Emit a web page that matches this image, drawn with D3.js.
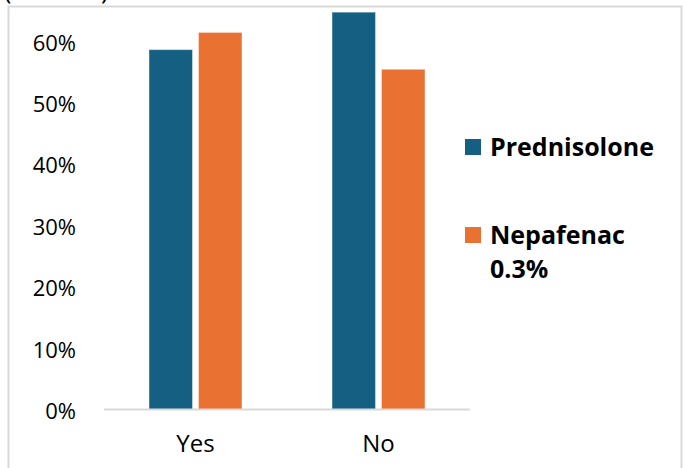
<!DOCTYPE html>
<html>
<head>
<meta charset="utf-8">
<script src="https://cdn.jsdelivr.net/npm/d3@7"></script>
<style>
  html, body { margin: 0; padding: 0; background: #fff; }
  svg { display: block; }
</style>
</head>
<body>
<svg id="chart" width="686" height="468"></svg>
<script>
// Response categories and series values (percent)
const categories = ["Yes", "No"];
const seriesNames = ["Prednisolone", "Nepafenac 0.3%"];
const prednisolone = [58.6, 64.7];
const nepafenac = [61.4, 55.4];
const tickValues = [0, 10, 20, 30, 40, 50, 60];
const tickLabels = ["0%", "10%", "20%", "30%", "40%", "50%", "60%"];
const colors = ["#156082", "#E97132"];

const svg = d3.select("#chart");
const plot = { left: 104, right: 470, top: 41, bottom: 409.5 };
const FONT = "'Open Sans', sans-serif";

// Outer chart frame
svg.append("rect")
  .attr("x", 8.5).attr("y", 6.5)
  .attr("width", 673).attr("height", 480)
  .attr("fill", "#fff")
  .attr("stroke", "#d9d9d9").attr("stroke-width", 2);

// Title line sitting above the frame, mostly outside the view
svg.append("text")
  .attr("x", 4).attr("y", -1)
  .attr("font-family", FONT)
  .attr("font-size", 25)
  .attr("fill", "#000")
  .text("(Percent)");

const x0 = d3.scaleBand().domain(categories).range([plot.left, plot.right]);
const x1 = d3.scaleBand().domain(seriesNames).range([0, 93]).paddingInner(0.12);
const y = d3.scaleLinear().domain([0, 60]).range([plot.bottom, plot.top]);

const values = [prednisolone, nepafenac];

// Bars
const groups = svg.append("g").selectAll("g")
  .data(categories)
  .join("g")
  .attr("transform", d => `translate(${x0(d) + (x0.bandwidth() - 93) / 2},0)`);

groups.selectAll("rect")
  .data((c, ci) => seriesNames.map((s, si) => ({ s, si, v: values[si][ci] })))
  .join("rect")
  .attr("x", d => x1(d.s))
  .attr("width", x1.bandwidth())
  .attr("y", d => y(d.v))
  .attr("height", d => y(0) - y(d.v))
  .attr("fill", d => colors[d.si])
  .attr("stroke", "#ffffff")
  .attr("stroke-opacity", 0.45)
  .attr("stroke-width", 1);

// Baseline
svg.append("line")
  .attr("x1", plot.left).attr("x2", plot.right)
  .attr("y1", y(0)).attr("y2", y(0))
  .attr("stroke", "#d9d9d9").attr("stroke-width", 2);

// Y axis labels
const yAxis = d3.axisLeft(y)
  .tickValues(tickValues)
  .tickFormat((d, i) => tickLabels[i])
  .tickSize(0)
  .tickPadding(0);
const yg = svg.append("g")
  .attr("transform", `translate(76,2)`)
  .call(yAxis);
yg.select(".domain").remove();
yg.selectAll("text")
  .attr("font-family", FONT)
  .attr("font-size", 22)
  .attr("fill", "#000");

// X axis labels
const xAxis = d3.axisBottom(x0).tickSize(0).tickPadding(0);
const xg = svg.append("g")
  .attr("transform", `translate(0,435)`)
  .call(xAxis);
xg.select(".domain").remove();
xg.selectAll("text")
  .attr("font-family", FONT)
  .attr("font-size", 24)
  .attr("fill", "#000");

// Legend
const legend = svg.append("g");
const legendRows = [
  { lines: ["Prednisolone"], y: 139 },
  { lines: ["Nepafenac", "0.3%"], y: 227 }
];
legendRows.forEach((row, i) => {
  legend.append("rect")
    .attr("x", 465).attr("y", row.y)
    .attr("width", 16).attr("height", 16)
    .attr("fill", colors[i]);
  const t = legend.append("text")
    .attr("x", 490).attr("y", row.y + 17)
    .attr("font-family", FONT)
    .attr("font-weight", "bold")
    .attr("font-size", 25)
    .attr("fill", "#000");
  row.lines.forEach((ln, j) => {
    t.append("tspan").attr("x", 490).attr("dy", j === 0 ? 0 : 34).text(ln);
  });
});
</script>
</body>
</html>
